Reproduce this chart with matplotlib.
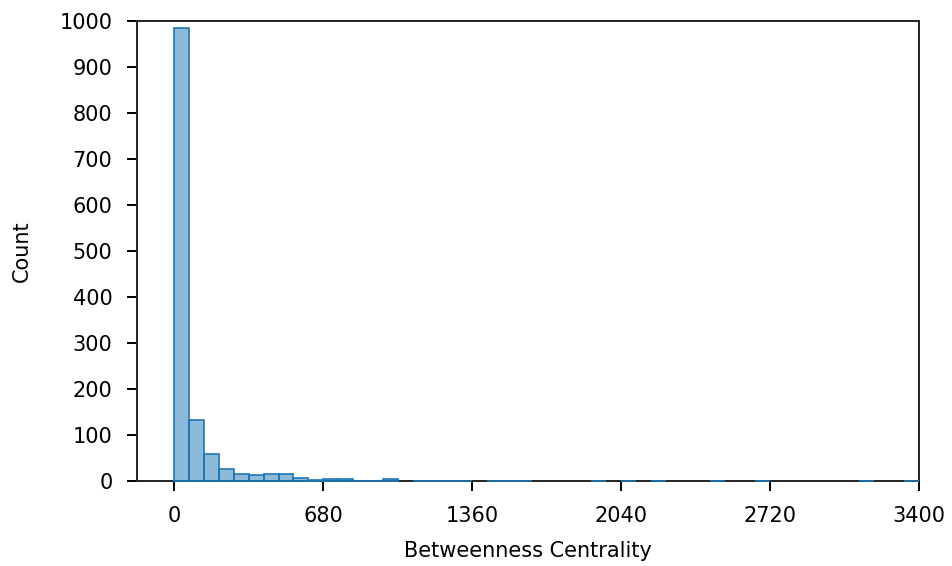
import numpy as np
import matplotlib
matplotlib.use("Agg")
import matplotlib.pyplot as plt

# Histogram of node betweenness centrality: 50 equal-width bins over [0, 3400]
bin_start = 0
bin_stop = 3400
counts = [985, 132, 58, 26, 16, 12, 15, 16, 6, 3,
          4, 5, 1, 1, 4, 0, 1, 1, 1, 1,
          0, 1, 1, 1, 0, 0, 0, 0, 1, 0,
          1, 0, 1, 0, 0, 0, 1, 0, 0, 1,
          0, 0, 0, 0, 0, 0, 1, 0, 0, 1]
x_ticks = [0, 680, 1360, 2040, 2720, 3400]
y_ticks = [0, 100, 200, 300, 400, 500, 600, 700, 800, 900, 1000]

counts_arr = np.asarray(counts)
edges = np.linspace(bin_start, bin_stop, len(counts) + 1)
widths = np.diff(edges)
filled = counts_arr > 0  # empty bins get no outline

plt.rcParams['font.family'] = ['DejaVu Sans']
fig = plt.figure(figsize=(9.53, 5.66), dpi=100)
ax = fig.add_axes([137 / 953, 1 - 481 / 566, (919 - 137) / 953, 460 / 566])

blue = '#1f77b4'
ax.bar(edges[:-1][filled], counts_arr[filled], width=widths[filled], align='edge',
       facecolor=(0.122, 0.467, 0.706, 0.5), edgecolor=blue, linewidth=1.2,
       zorder=3, clip_on=False)

ax.set_xlim(-170, 3400)
ax.set_ylim(0, 1000)
ax.set_xticks(x_ticks)
ax.set_yticks(y_ticks)
ax.tick_params(axis='both', labelsize=15, length=7.2, width=1.4, pad=10.5)
for s in ax.spines.values():
    s.set_linewidth(1.4)
    s.set_color('#222222')

ax.set_xlabel('Betweenness Centrality', fontsize=15, labelpad=11)
ax.set_ylabel('Count', fontsize=15, labelpad=20)

fig.savefig('out.png', dpi=100)
